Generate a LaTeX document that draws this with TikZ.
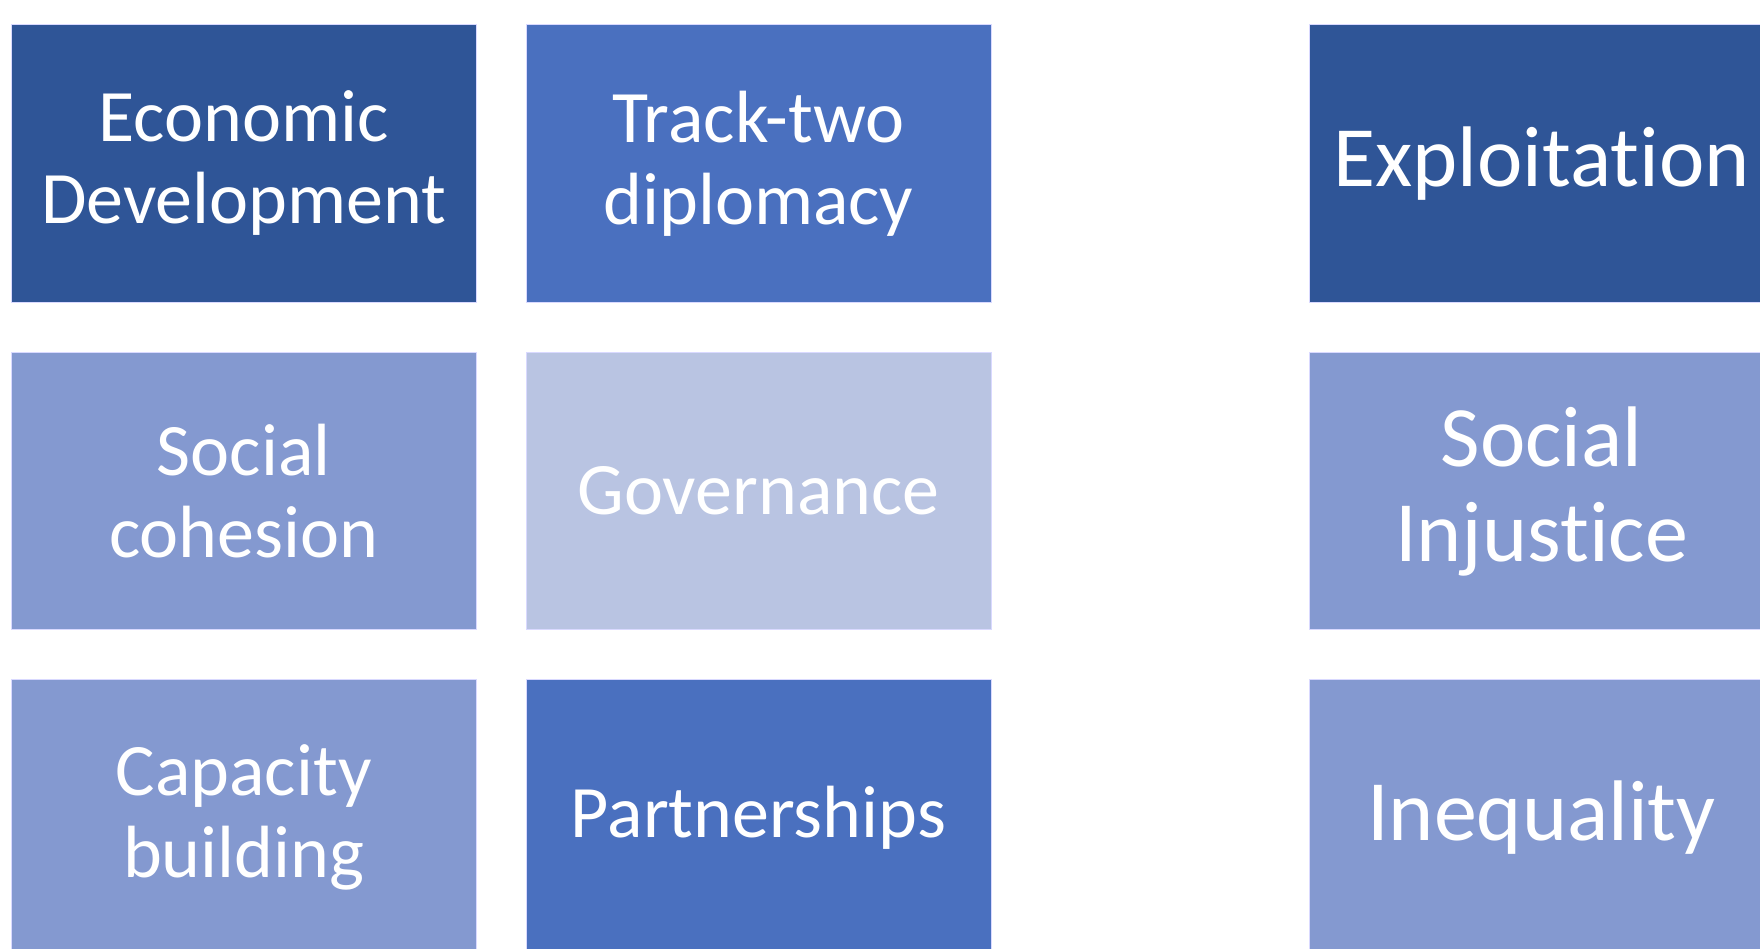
\documentclass[tikz,border=0pt]{standalone}
\usepackage{fontspec}
\setmainfont[Ligatures=NoCommon]{Carlito}
\usepackage{tikz}

\definecolor{darkblue}{HTML}{2F5597}
\definecolor{midblue}{HTML}{4A70BF}
\definecolor{lightblue}{HTML}{8499D0}
\definecolor{paleblue}{HTML}{B9C4E2}

\begin{document}
\begin{tikzpicture}
        [x=1pt,y=-1pt,every node/.style={rectangle,draw=white!85!blue,line width=.8pt,text=white,
        minimum width=465pt,minimum height=277.5pt,inner sep=0pt,align=center,
        font=\fontsize{74}{82}\selectfont},
        big/.style={font=\fontsize{86}{95}\selectfont}]
        \useasboundingbox (0,0) rectangle (1760,948);
        \clip (0,0) rectangle (1760,948);

        % left block
        \node[fill=darkblue] (econ) at (243.7,163.4) {Economic\\Development};
        \node[fill=midblue] (track) at (758.5,163.4) {Track-two\\diplomacy};
        \node[fill=lightblue] (cohesion) at (243.7,491.1) {Social\\cohesion};
        \node[fill=paleblue] (gov) at (758.5,491.1) {Governance};
        \node[fill=lightblue] (capacity) at (243.7,817.8) {Capacity\\building};
        \node[fill=midblue] (partner) at (758.5,817.8) {Partnerships};

        % right column
        \node[fill=darkblue,big] (exploit) at (1541.5,163.4) {Exploitation};
        \node[fill=lightblue,big] (injustice) at (1541.5,491.1) {Social\\Injustice};
        \node[fill=lightblue,big] (inequal) at (1541.5,817.8) {Inequality};
\end{tikzpicture}
\end{document}
